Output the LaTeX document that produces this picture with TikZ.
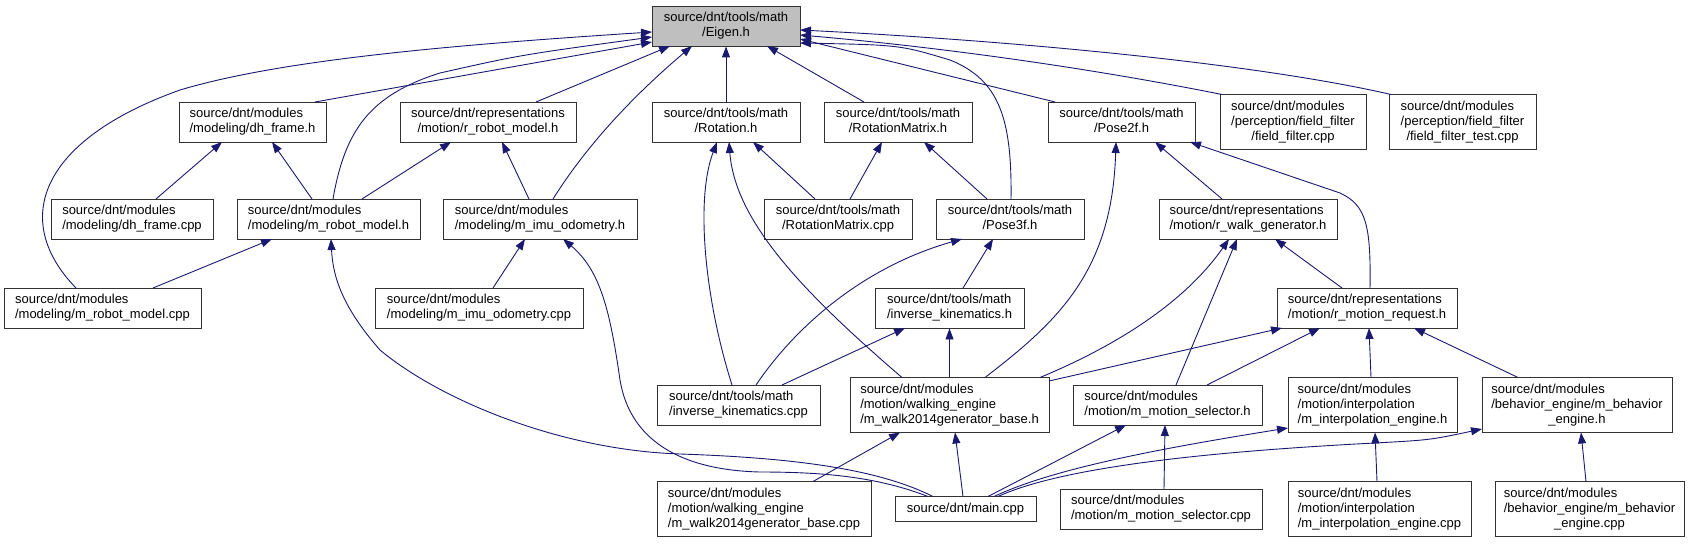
\documentclass[tikz,border=0pt]{standalone}
\usepackage{fontspec}
\setmainfont{Liberation Sans}
\usetikzlibrary{arrows.meta,calc}
\definecolor{edgec}{HTML}{191970}
\newcommand\twol[2]{\begin{tabular}{@{}l@{}}#1\\\multicolumn{1}{@{}c@{}}{#2}\end{tabular}}
\newcommand\threel[3]{\begin{tabular}{@{}l@{}}#1\\#2\\\multicolumn{1}{@{}c@{}}{#3}\end{tabular}}
\tikzset{
  box/.style={draw=black!80, line width=0.9pt, fill=white, inner sep=0pt, font=\fontsize{13}{15}\selectfont},
  edge/.style={draw=edgec, line width=0.9pt, -{Triangle[length=11pt,width=8pt]}},
}
\begin{document}
\begin{tikzpicture}[x=1pt,y=-1pt]
\useasboundingbox (0,0) rectangle (1693,543);
% row 1
\node[box, fill=black!25, minimum width=148pt, minimum height=40pt] (eigen) at (726,26) {\twol{source/dnt/tools/math}{/Eigen.h}};
% row 2
\node[box, minimum width=147pt, minimum height=40pt] (dhh) at (252.5,122) {\twol{source/dnt/modules}{/modeling/dh\_frame.h}};
\node[box, minimum width=176pt, minimum height=40pt] (rrm) at (488,122) {\twol{source/dnt/representations}{/motion/r\_robot\_model.h}};
\node[box, minimum width=148pt, minimum height=40pt] (rot) at (726,122) {\twol{source/dnt/tools/math}{/Rotation.h}};
\node[box, minimum width=148pt, minimum height=40pt] (rotm) at (898,122) {\twol{source/dnt/tools/math}{/RotationMatrix.h}};
\node[box, minimum width=147pt, minimum height=40pt] (pose2) at (1121.5,122) {\twol{source/dnt/tools/math}{/Pose2f.h}};
\node[box, minimum width=146pt, minimum height=55pt] (ff) at (1293,122) {\threel{source/dnt/modules}{/perception/field\_filter}{/field\_filter.cpp}};
\node[box, minimum width=147pt, minimum height=55pt] (fft) at (1462.5,122) {\threel{source/dnt/modules}{/perception/field\_filter}{/field\_filter\_test.cpp}};
% row 3
\node[box, minimum width=162pt, minimum height=40pt] (dhc) at (132,219) {\twol{source/dnt/modules}{/modeling/dh\_frame.cpp}};
\node[box, minimum width=183pt, minimum height=40pt] (mrmh) at (328.5,219) {\twol{source/dnt/modules}{/modeling/m\_robot\_model.h}};
\node[box, minimum width=194pt, minimum height=40pt] (mimuh) at (540,219) {\twol{source/dnt/modules}{/modeling/m\_imu\_odometry.h}};
\node[box, minimum width=148pt, minimum height=40pt] (rotmc) at (838,219) {\twol{source/dnt/tools/math}{/RotationMatrix.cpp}};
\node[box, minimum width=148pt, minimum height=40pt] (pose3) at (1010,219) {\twol{source/dnt/tools/math}{/Pose3f.h}};
\node[box, minimum width=178pt, minimum height=40pt] (rwg) at (1248,219) {\twol{source/dnt/representations}{/motion/r\_walk\_generator.h}};
% row 4
\node[box, minimum width=197pt, minimum height=40pt] (mrmc) at (102.5,308) {\twol{source/dnt/modules}{/modeling/m\_robot\_model.cpp}};
\node[box, minimum width=208pt, minimum height=40pt] (mimuc) at (479,308) {\twol{source/dnt/modules}{/modeling/m\_imu\_odometry.cpp}};
\node[box, minimum width=149pt, minimum height=40pt] (ikh) at (949.5,308) {\twol{source/dnt/tools/math}{/inverse\_kinematics.h}};
\node[box, minimum width=180pt, minimum height=40pt] (rmr) at (1367,308) {\twol{source/dnt/representations}{/motion/r\_motion\_request.h}};
% row 5
\node[box, minimum width=163pt, minimum height=40pt] (ikc) at (738.5,405) {\twol{source/dnt/tools/math}{/inverse\_kinematics.cpp}};
\node[box, minimum width=199pt, minimum height=55pt] (mwh) at (949.5,405) {\threel{source/dnt/modules}{/motion/walking\_engine}{/m\_walk2014generator\_base.h}};
\node[box, minimum width=189pt, minimum height=40pt] (msh) at (1167.5,405) {\twol{source/dnt/modules}{/motion/m\_motion\_selector.h}};
\node[box, minimum width=169pt, minimum height=55pt] (mih) at (1372.5,405) {\threel{source/dnt/modules}{/motion/interpolation}{/m\_interpolation\_engine.h}};
\node[box, minimum width=190pt, minimum height=55pt] (mbh) at (1577,405) {\threel{source/dnt/modules}{/behavior\_engine/m\_behavior}{\_engine.h}};
% row 6
\node[box, minimum width=214pt, minimum height=55pt] (mwc) at (764,509) {\threel{source/dnt/modules}{/motion/walking\_engine}{/m\_walk2014generator\_base.cpp}};
\node[box, minimum width=141pt, minimum height=25pt] (main) at (965.5,509) {source/dnt/main.cpp};
\node[box, minimum width=202pt, minimum height=40pt] (msc) at (1161,509) {\twol{source/dnt/modules}{/motion/m\_motion\_selector.cpp}};
\node[box, minimum width=183pt, minimum height=55pt] (mic) at (1379.5,509) {\threel{source/dnt/modules}{/motion/interpolation}{/m\_interpolation\_engine.cpp}};
\node[box, minimum width=189pt, minimum height=55pt] (mbc) at (1589.5,509) {\threel{source/dnt/modules}{/behavior\_engine/m\_behavior}{\_engine.cpp}};
% edges into Eigen.h
\draw[edge] ($(dhh)+(62.5,-20)$) -- ($(eigen)+(-74,16)$);
\draw[edge] ($(mrmh)+(4.5,-20)$) .. controls (345,130) and (370,95) .. (440,73) .. controls (520,55) .. ($(eigen)+(-74,11)$);
\draw[edge] ($(mrmc)+(-26.5,-20)$) .. controls (10,220) and (40,140) .. (180,90) .. controls (280,60) and (450,45) .. ($(eigen)+(-74,6)$);
\draw[edge] ($(rrm)+(48,-20)$) -- ($(eigen)+(-56,20)$);
\draw[edge] ($(mimuh)+(13,-20)$) .. controls (590,140) and (640,90) .. ($(eigen)+(-34,20)$);
\draw[edge] (rot.north) -- (eigen.south);
\draw[edge] ($(rotm)+(-34,-20)$) -- ($(eigen)+(41,20)$);
\draw[edge] ($(pose2)+(-66.5,-20)$) -- ($(eigen)+(74,13)$);
\draw[edge] ($(pose3)+(1,-20)$) .. controls (1012,120) and (1000,80) .. (950,60) .. controls (900,45) .. ($(eigen)+(74,17)$);
\draw[edge] ($(ff)+(-71,-27.5)$) .. controls (1100,70) and (950,48) .. ($(eigen)+(74,9)$);
\draw[edge] ($(fft)+(-71.5,-27.5)$) .. controls (1250,62) and (1000,40) .. ($(eigen)+(74,4)$);
% row 3 -> row 2
\draw[edge] ($(dhc)+(24,-20)$) -- ($(dhh)+(-30.5,20)$);
\draw[edge] ($(mrmh)+(-16.5,-20)$) -- ($(dhh)+(19.5,20)$);
\draw[edge] ($(mrmh)+(33.5,-20)$) -- ($(rrm)+(-37,20)$);
\draw[edge] ($(mimuh)+(-11,-20)$) -- ($(rrm)+(14,20)$);
\draw[edge] ($(rotmc)+(-23,-20)$) -- ($(rot)+(27,20)$);
\draw[edge] ($(rotmc)+(12,-20)$) -- ($(rotm)+(-16,20)$);
\draw[edge] ($(pose3)+(-23,-20)$) -- ($(rotm)+(26,20)$);
\draw[edge] ($(rwg)+(-26,-20)$) -- ($(pose2)+(33.5,20)$);
\draw[edge] ($(rmr)+(3,-20)$) .. controls (1371,225) and (1366,205) .. (1340,193) -- ($(pose2)+(68.5,20)$);
\draw[edge] ($(mwh)+(35.5,-27.5)$) .. controls (1060,320) and (1112,270) .. ($(pose2)+(-5.5,20)$);
% lower edges
\draw[edge] ($(mrmc)+(50.5,-20)$) -- ($(mrmh)+(-56.5,20)$);
\draw[edge] ($(main)+(-32.5,-12.5)$) .. controls (880,470) and (800,458) .. (680,454) .. controls (560,450) and (440,400) .. (380,350) .. controls (345,310) and (333,280) .. ($(mrmh)+(2.5,20)$);
\draw[edge] ($(mimuc)+(14,-20)$) -- ($(mimuh)+(-15,20)$);
\draw[edge] ($(main)+(-37.5,-12.5)$) .. controls (880,478) and (830,472) .. (760,472) .. controls (680,470) and (630,440) .. (620,380) .. controls (610,310) and (600,270) .. ($(mimuh)+(23,20)$);
\draw[edge] ($(ikh)+(13.5,-20)$) -- ($(pose3)+(-17,20)$);
\draw[edge] ($(ikc)+(17.5,-20)$) .. controls (800,320) and (870,265) .. ($(pose3)+(-48,20)$);
\draw[edge] ($(ikc)+(-6.5,-20)$) .. controls (705,300) and (695,200) .. ($(rot)+(-9,20)$);
\draw[edge] ($(mwh)+(-47.5,-27.5)$) .. controls (800,290) and (735,220) .. ($(rot)+(3,20)$);
\draw[edge] ($(ikc)+(43.5,-20)$) -- ($(ikh)+(-44.5,20)$);
\draw[edge] (mwh.north) -- (ikh.south);
\draw[edge] ($(mwh)+(90.5,-27.5)$) .. controls (1130,340) and (1190,295) .. ($(rwg)+(-19,20)$);
\draw[edge] ($(msh)+(8.5,-20)$) -- ($(rwg)+(-11,20)$);
\draw[edge] ($(rmr)+(-25,-20)$) -- ($(rwg)+(27,20)$);
\draw[edge] ($(mwh)+(99.5,-24)$) -- ($(rmr)+(-85,20)$);
\draw[edge] ($(msh)+(39.5,-20)$) -- ($(rmr)+(-47,20)$);
\draw[edge] ($(mih)+(-1.5,-27.5)$) -- ($(rmr)+(2,20)$);
\draw[edge] ($(mbh)+(-59,-27.5)$) -- ($(rmr)+(47,20)$);
\draw[edge] ($(mwc)+(49,-27.5)$) -- ($(mwh)+(-49.5,27.5)$);
\draw[edge] ($(main)+(-2.5,-12.5)$) -- ($(mwh)+(5.5,27.5)$);
\draw[edge] ($(main)+(22.5,-12.5)$) -- ($(msh)+(-41.5,20)$);
\draw[edge] ($(msc)+(3,-20)$) -- ($(msh)+(-2.5,20)$);
\draw[edge] ($(main)+(28.5,-12.5)$) .. controls (1050,470) and (1150,450) .. ($(mih)+(-84.5,23)$);
\draw[edge] ($(main)+(32.5,-12.5)$) .. controls (1060,468) and (1200,452) .. (1375,443) .. controls (1430,440) .. ($(mbh)+(-95,24)$);
\draw[edge] ($(mic)+(-2.5,-27.5)$) -- ($(mih)+(2.5,27.5)$);
\draw[edge] ($(mbc)+(-3.5,-27.5)$) -- ($(mbh)+(4,27.5)$);
\end{tikzpicture}
\end{document}
